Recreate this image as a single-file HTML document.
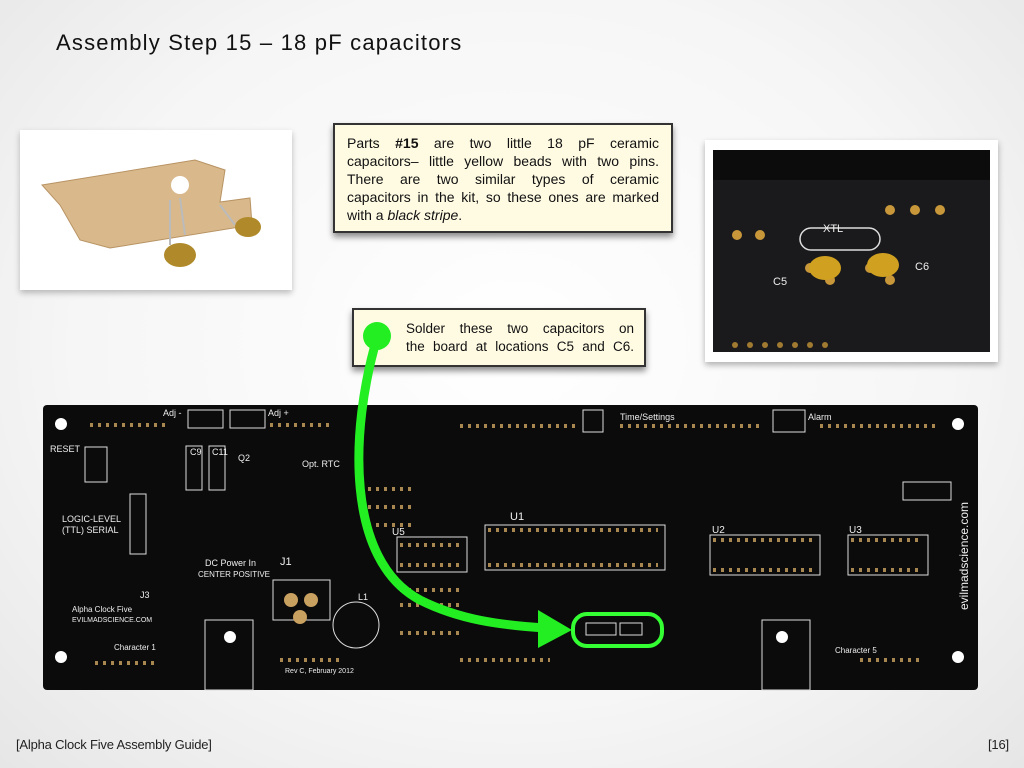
<!DOCTYPE html>
<html><head><meta charset="utf-8"><style>
html,body{margin:0;padding:0}
body{width:1024px;height:768px;overflow:hidden;position:relative;font-family:"Liberation Sans",sans-serif;
background:radial-gradient(ellipse at 50% 45%,#ffffff 0%,#f6f6f6 60%,#e6e6e6 100%);}
.title{position:absolute;left:56px;top:30px;font-size:22px;color:#111;letter-spacing:1.2px}
.foot{position:absolute;top:737px;font-size:13px;color:#222;letter-spacing:-0.2px}
.box{position:absolute;background:#fffbe3;border:2px solid #333;box-shadow:0 4px 6px rgba(0,0,0,.45);font-size:14px;line-height:18px;color:#111}
.j{text-align:justify;text-align-last:justify;white-space:nowrap}
</style></head><body>
<div class="title">Assembly Step 15 – 18 pF capacitors</div>

<div style="position:absolute;left:20px;top:130px;width:272px;height:160px;background:#fff;box-shadow:0 3px 6px rgba(0,0,0,.25)">
<svg width="272" height="160">
<polygon points="22,55 175,30 205,40 200,72 230,68 232,95 90,118 60,110 40,75" fill="#d9b98c" stroke="#b89363"/>
<circle cx="160" cy="55" r="9" fill="#fff"/>
<line x1="150" y1="70" x2="150" y2="115" stroke="#bbb" stroke-width="2"/>
<line x1="160" y1="68" x2="165" y2="105" stroke="#bbb" stroke-width="2"/>
<line x1="200" y1="75" x2="215" y2="95" stroke="#bbb" stroke-width="2"/>
<ellipse cx="160" cy="125" rx="16" ry="12" fill="#b08a2a"/>
<ellipse cx="228" cy="97" rx="13" ry="10" fill="#b08a2a"/>
</svg></div>

<div style="position:absolute;left:705px;top:140px;width:293px;height:222px;background:#fff;box-shadow:0 3px 6px rgba(0,0,0,.3)">
<svg width="293" height="222" style="position:absolute;left:0;top:0">
<rect x="8" y="10" width="277" height="202" fill="#1a1a1c"/>
<rect x="8" y="10" width="277" height="30" fill="#0c0c0c"/>
<g fill="#c8973a"><circle cx="32" cy="95" r="5"/><circle cx="55" cy="95" r="5"/><circle cx="185" cy="70" r="5"/><circle cx="210" cy="70" r="5"/><circle cx="235" cy="70" r="5"/><circle cx="105" cy="128" r="5"/><circle cx="125" cy="140" r="5"/><circle cx="165" cy="128" r="5"/><circle cx="185" cy="140" r="5"/></g>
<rect x="95" y="88" width="80" height="22" rx="11" fill="none" stroke="#ddd" stroke-width="1.5"/>
<ellipse cx="120" cy="128" rx="16" ry="12" fill="#d0a020"/>
<ellipse cx="178" cy="125" rx="16" ry="12" fill="#d0a020"/>
<text x="118" y="92" fill="#eee" font-size="11">XTL</text>
<text x="68" y="145" fill="#eee" font-size="11">C5</text>
<text x="210" y="130" fill="#eee" font-size="11">C6</text>
<g fill="#a07a30"><circle cx="30" cy="205" r="3"/><circle cx="45" cy="205" r="3"/><circle cx="60" cy="205" r="3"/><circle cx="75" cy="205" r="3"/><circle cx="90" cy="205" r="3"/><circle cx="105" cy="205" r="3"/><circle cx="120" cy="205" r="3"/></g>
</svg></div>

<div class="box" style="left:333px;top:123px;width:336px;height:106px">
<div style="position:absolute;left:12px;top:9px;width:312px">
<div class="j">Parts <b>#15</b> are two little 18 pF ceramic</div>
<div class="j">capacitors– little yellow beads with two pins.</div>
<div class="j">There are two similar types of ceramic</div>
<div class="j">capacitors in the kit, so these ones are marked</div>
<div>with a <i>black stripe</i>.</div>
</div></div>

<div class="box" style="left:352px;top:308px;width:290px;height:55px">
<div style="position:absolute;left:52px;top:10px;width:228px;font-size:13.5px">
<div class="j">Solder these two capacitors on</div>
<div class="j">the board at locations C5 and C6.</div></div></div>

<svg width="1024" height="768" style="position:absolute;left:0;top:0">
<rect x="43" y="405" width="935" height="285" rx="4" fill="#0b0b0b"/>
<g fill="#fff"><circle cx="61" cy="424" r="6"/><circle cx="61" cy="657" r="6"/><circle cx="230" cy="637" r="6"/><circle cx="782" cy="637" r="6"/><circle cx="958" cy="424" r="6"/><circle cx="958" cy="657" r="6"/></g>
<g fill="none" stroke="#ddd" stroke-width="1">
<rect x="485" y="525" width="180" height="45"/><rect x="710" y="535" width="110" height="40"/><rect x="848" y="535" width="80" height="40"/><rect x="397" y="537" width="70" height="35"/>
<rect x="205" y="620" width="48" height="70"/><rect x="762" y="620" width="48" height="70"/>
<rect x="273" y="580" width="57" height="40"/><circle cx="356" cy="625" r="23"/>
<rect x="186" y="446" width="16" height="44"/><rect x="209" y="446" width="16" height="44"/>
<rect x="188" y="410" width="35" height="18"/><rect x="230" y="410" width="35" height="18"/>
<rect x="583" y="410" width="20" height="22"/><rect x="773" y="410" width="32" height="22"/>
<rect x="85" y="447" width="22" height="35"/><rect x="130" y="494" width="16" height="60"/>
<rect x="903" y="482" width="48" height="18"/>
</g>
<g fill="#c8a060">
<circle cx="291" cy="600" r="7"/><circle cx="311" cy="600" r="7"/><circle cx="300" cy="617" r="7"/>
</g>
<g>
<path d="M90 425 h80 M270 425 h60 M460 426 h120 M620 426 h140 M820 426 h120 M95 663 h60 M280 660 h60 M460 660 h90 M860 660 h60" stroke="#a88850" stroke-width="4" stroke-dasharray="3 5"/>
<path d="M488 530 h170 M488 565 h170 M713 540 h100 M713 570 h100 M851 540 h72 M851 570 h72 M400 545 h60 M400 565 h60 M400 590 h60 M400 605 h60 M400 633 h60 M368 507 h45 M368 525 h45 M368 489 h45" stroke="#a88850" stroke-width="4" stroke-dasharray="3 5"/>
</g>
<g fill="#eee" font-size="9">
<text x="50" y="452">RESET</text><text x="62" y="522">LOGIC-LEVEL</text><text x="62" y="533">(TTL) SERIAL</text>
<text x="280" y="565" font-size="11">J1</text><text x="205" y="566">DC Power In</text><text x="198" y="577" font-size="8">CENTER POSITIVE</text>
<text x="72" y="612" font-size="8">Alpha Clock Five</text><text x="72" y="622" font-size="7">EVILMADSCIENCE.COM</text>
<text x="114" y="650" font-size="8">Character 1</text><text x="285" y="673" font-size="7">Rev C, February 2012</text>
<text x="510" y="520" font-size="11">U1</text><text x="712" y="533" font-size="10">U2</text><text x="849" y="533" font-size="10">U3</text>
<text x="392" y="535" font-size="10">U5</text><text x="620" y="420">Time/Settings</text><text x="808" y="420">Alarm</text>
<text x="163" y="416">Adj -</text><text x="268" y="416">Adj +</text><text x="302" y="467">Opt. RTC</text>
<text x="835" y="653" font-size="8">Character 5</text><text x="358" y="600" font-size="9">L1</text><text x="140" y="598">J3</text>
<text x="190" y="455" font-size="9">C9</text><text x="212" y="455" font-size="9">C11</text><text x="238" y="461">Q2</text>
<text x="0" y="0" transform="translate(968,610) rotate(-90)" font-size="12">evilmadscience.com</text>
</g>
<rect x="573" y="614" width="89" height="32" rx="14" fill="none" stroke="#3f3" stroke-width="4"/>
<rect x="586" y="623" width="30" height="12" fill="none" stroke="#ddd"/><rect x="620" y="623" width="22" height="12" fill="none" stroke="#ddd"/>
<path d="M377 338 C350 430,345 560,420 600 C460 620,500 625,545 628" fill="none" stroke="#22ee22" stroke-width="9"/>
<polygon points="538,610 572,630 538,648" fill="#22ee22"/>
<circle cx="377" cy="336" r="14" fill="#22ee22"/>
</svg>

<div class="foot" style="left:16px">[Alpha Clock Five Assembly Guide]</div>
<div class="foot" style="left:988px">[16]</div>
</body></html>
